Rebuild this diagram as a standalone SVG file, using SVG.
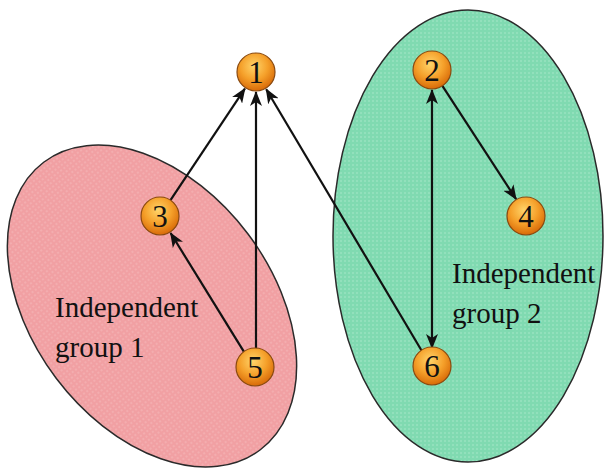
<svg xmlns="http://www.w3.org/2000/svg" width="604" height="468" viewBox="0 0 604 468">
<defs>
<radialGradient id="ball" cx="0.45" cy="0.35" r="0.65">
<stop offset="0" stop-color="#FFD46A"/>
<stop offset="0.55" stop-color="#F5A02A"/>
<stop offset="1" stop-color="#D86A08"/>
</radialGradient>
<pattern id="dotsP" width="4" height="4" patternUnits="userSpaceOnUse">
<rect width="4" height="4" fill="#F1A0A3"/>
<circle cx="1" cy="1" r="0.7" fill="#F8C4C6"/>
</pattern>
<pattern id="dotsG" width="4" height="4" patternUnits="userSpaceOnUse">
<rect width="4" height="4" fill="#80DAB1"/>
<circle cx="1" cy="1" r="0.7" fill="#B2EBD0"/>
</pattern>
<marker id="arr" viewBox="0 0 15 12" refX="14" refY="6" markerWidth="15" markerHeight="12" markerUnits="userSpaceOnUse" orient="auto-start-reverse">
<path d="M0,0 L15,6 L0,12 L4,6 Z" fill="#111"/>
</marker>
</defs>
<style>
.grp{stroke:#2a2a2a;stroke-width:1.5}
.node circle{fill:url(#ball);stroke:#8a4a10;stroke-width:1.2}
.node text{font-family:"Liberation Serif",serif;font-size:31px;fill:#111;text-anchor:middle}
.lbl{font-family:"Liberation Serif",serif;font-size:29px;fill:#111}
.edge{stroke:#111;stroke-width:2.2;fill:none;marker-end:url(#arr)}
</style>
<g id="group1">
<ellipse class="grp" cx="152" cy="306" rx="180" ry="120" transform="rotate(53 152 306)" fill="url(#dotsP)"/>
<text class="lbl" x="55" y="317">Independent</text>
<text class="lbl" x="55" y="357">group 1</text>
</g>
<g id="group2">
<ellipse class="grp" cx="468" cy="236" rx="135" ry="226" fill="url(#dotsG)"/>
<text class="lbl" x="452" y="283">Independent</text>
<text class="lbl" x="452" y="323">group 2</text>
</g>
<g id="connectors">
<line class="edge" x1="170.5" y1="200.2" x2="244.9" y2="88.6"/>
<line class="edge" x1="256" y1="349" x2="256" y2="92"/>
<line class="edge" x1="422.3" y1="351.7" x2="266.2" y2="89.2"/>
<line class="edge" x1="244" y1="351.9" x2="170.6" y2="233"/>
<line class="edge" x1="432" y1="90" x2="432" y2="348" marker-start="url(#arr)"/>
<line class="edge" x1="442.4" y1="85.9" x2="516.1" y2="199.2"/>
</g>
<g id="n1" class="node"><circle cx="256" cy="72" r="19"/><text x="256" y="83">1</text></g>
<g id="n2" class="node"><circle cx="432" cy="70" r="19"/><text x="432" y="81">2</text></g>
<g id="n3" class="node"><circle cx="160" cy="216" r="19"/><text x="160" y="227">3</text></g>
<g id="n4" class="node"><circle cx="526" cy="216" r="19"/><text x="526" y="227">4</text></g>
<g id="n5" class="node"><circle cx="255" cy="367" r="19"/><text x="255" y="378">5</text></g>
<g id="n6" class="node"><circle cx="432" cy="366" r="19"/><text x="432" y="377">6</text></g>
</svg>
